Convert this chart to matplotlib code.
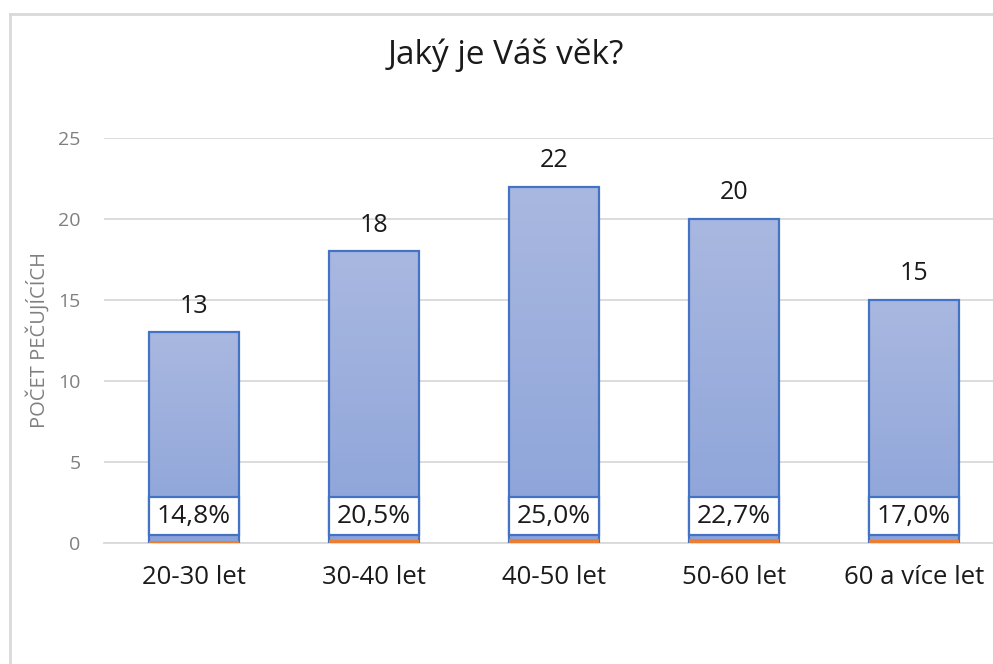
import numpy as np
import matplotlib
matplotlib.use("Agg")
import matplotlib.pyplot as plt
from matplotlib.patches import Rectangle

plt.rcParams['font.family'] = ['Open Sans', 'DejaVu Sans']

categories = ["20-30 let", "30-40 let", "40-50 let", "50-60 let", "60 a více let"]
counts = [13, 18, 22, 20, 15]
percents = [0.148, 0.205, 0.250, 0.227, 0.170]
pct_labels = ["14,8%", "20,5%", "25,0%", "22,7%", "17,0%"]
yticks = [0, 5, 10, 15, 20, 25]

W, H = 993, 664
fig = plt.figure(figsize=(W / 100, H / 100), dpi=100)
ax = fig.add_axes([104 / W, 1 - 543 / H, (993 - 104) / W, 405 / H])

x = np.arange(len(categories))
width = 0.5
edge = "#4472c4"

top_c = np.array([0xa9, 0xb8, 0xe0]) / 255
bot_c = np.array([0x8c, 0xa3, 0xd9]) / 255
g = np.zeros((256, 1, 3))
for k in range(3):
    g[:, 0, k] = bot_c[k] + (top_c[k] - bot_c[k]) * np.linspace(0, 1, 256)

for i, (c, p) in enumerate(zip(counts, percents)):
    bars = ax.bar(x[i], c, width=width, color="none", edgecolor=edge,
                  linewidth=1.6, zorder=5)
    rect = bars[0]
    im = ax.imshow(g, extent=(x[i] - width / 2, x[i] + width / 2, 0, c),
                   origin="lower", aspect="auto", zorder=4)
    im.set_clip_path(rect)
    # orange base series
    ax.bar(x[i], p, width=width, color="#ed7d31", edgecolor="none", zorder=6)
    # count label
    ax.text(x[i], c + 0.85, str(c), ha="center", va="bottom", fontsize=18,
            color="#1a1a1a", zorder=6)
    # percent label box
    ax.add_patch(Rectangle((x[i] - width / 2, 0.5), width, 2.35, facecolor="white",
                           edgecolor=edge, linewidth=1.6, zorder=6))
    ax.text(x[i], 1.62, pct_labels[i], ha="center", va="center", fontsize=19,
            color="#1a1a1a", zorder=7)

ax.set_xlim(-0.5, -0.5 + (993 - 104) / 180)
ax.set_ylim(0, 25)
ax.set_yticks(yticks)
ax.set_yticklabels([str(t) for t in yticks], fontsize=14, color="#7f7f7f")
ax.set_xticks(x)
ax.set_xticklabels(categories, fontsize=18.5, color="#1a1a1a")
ax.tick_params(axis="both", length=0)
ax.tick_params(axis="y", pad=17)
ax.tick_params(axis="x", pad=16)
ax.yaxis.grid(True, color="#d9d9d9", linewidth=1.3, zorder=0)
ax.set_axisbelow(True)
for s in ["top", "right", "left"]:
    ax.spines[s].set_visible(False)
ax.spines["bottom"].set_color("#d9d9d9")
ax.spines["bottom"].set_linewidth(1.3)
ax.set_ylabel("POČET PEČUJÍCÍCH", fontsize=14.5, color="#7f7f7f", labelpad=6)

fig.text(506 / W, 1 - 55 / H, "Jaký je Váš věk?", ha="center", va="center",
         fontsize=24, color="#1a1a1a")

# chart border
fig.add_artist(plt.Line2D([10 / W, 10 / W], [0, 1 - 14 / H], color="#d9d9d9",
                          linewidth=2, transform=fig.transFigure))
fig.add_artist(plt.Line2D([10 / W, 1], [1 - 14 / H, 1 - 14 / H], color="#d9d9d9",
                          linewidth=2, transform=fig.transFigure))

fig.savefig("out.png", dpi=100)
